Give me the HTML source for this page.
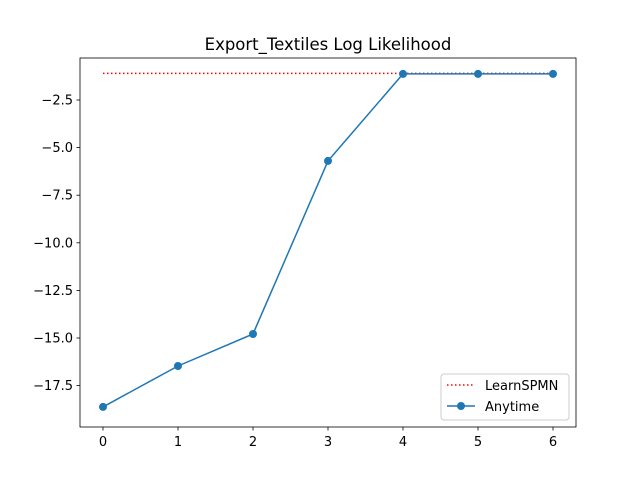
<!DOCTYPE html>
<html><head><meta charset="utf-8"><style>
body{margin:0;background:#fff}
svg text{font-family:"DejaVu Sans","Liberation Sans",sans-serif;fill:#000}
</style></head><body>
<svg id="chart" width="640" height="480" xmlns="http://www.w3.org/2000/svg">
<rect width="640" height="480" fill="#fff"/>
<text x="328" y="50" font-size="16.5" text-anchor="middle">Export_Textiles Log Likelihood</text>
<g id="axes"></g>
<g id="marks"></g>
<rect x="80" y="58" width="496" height="369" fill="none" stroke="#000" stroke-width="0.8"/>
<g>
<rect x="441" y="374" width="128" height="46" rx="3" fill="#fff" stroke="#ccc" stroke-width="1" fill-opacity="0.8"/>
<line x1="447" y1="385" x2="475" y2="385" stroke="red" stroke-width="1.5" stroke-dasharray="1.5,2.5"/>
<text x="485" y="390" font-size="13">LearnSPMN</text>
<line x1="447" y1="406" x2="475" y2="406" stroke="#1f77b4" stroke-width="1.5"/>
<circle cx="461" cy="406" r="4" fill="#1f77b4"/>
<text x="485" y="411" font-size="13">Anytime</text>
</g>
</svg>
<script>
const xValues=[0,1,2,3,4,5,6];
const anytime=[-18.62,-16.47,-14.79,-5.7,-1.13,-1.13,-1.13];
const learnSPMN=[-1.1,-1.1];
const learnX=[0,6];
const yTicks=[-2.5,-5.0,-7.5,-10.0,-12.5,-15.0,-17.5];
const yTickLabels=["−2.5","−5.0","−7.5","−10.0","−12.5","−15.0","−17.5"];
const xTicks=[0,1,2,3,4,5,6];
const NS="http://www.w3.org/2000/svg";
const xs=v=>103+v*75;
const ys=v=>100+(-2.5-v)*19.04;
function mk(tag,attrs,parent){const e=document.createElementNS(NS,tag);for(const k in attrs)e.setAttribute(k,attrs[k]);parent.appendChild(e);return e;}
const ax=document.getElementById('axes'),mg=document.getElementById('marks');
xTicks.forEach(t=>{
 const l=mk('line',{x1:xs(t),x2:xs(t),y1:427,y2:430.5,stroke:'#000','stroke-width':0.8},ax);
 
 
 const tx=mk('text',{x:xs(t),y:446,'font-size':13,'text-anchor':'middle'},ax);tx.textContent=t;
 
 
});
yTicks.forEach((t,i)=>{
 const l=mk('line',{x1:76.5,x2:80,y1:ys(t),y2:ys(t),stroke:'#000','stroke-width':0.8},ax);
 
 
 const tx=mk('text',{x:73,y:ys(t)+4.5,'font-size':13,'text-anchor':'end'},ax);tx.textContent=yTickLabels[i];
 
 
});
const ref=mk('polyline',{points:learnX.map((x,i)=>xs(x)+','+ys(learnSPMN[i])).join(' '),fill:'none',stroke:'red','stroke-width':1.5,'stroke-dasharray':'1.5,2.5'},mg);


const line=mk('polyline',{points:xValues.map((x,i)=>xs(x)+','+ys(anytime[i])).join(' '),fill:'none',stroke:'#1f77b4','stroke-width':1.5},mg);


xValues.forEach((x,i)=>{
 const c=mk('circle',{cx:xs(x),cy:ys(anytime[i]),r:4,fill:'#1f77b4'},mg);
 
 
});
</script>
</body></html>
